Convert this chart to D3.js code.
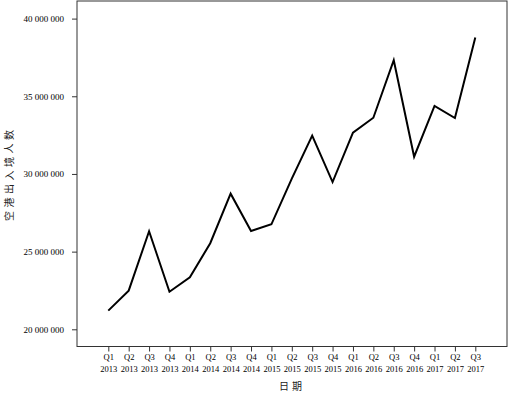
<!DOCTYPE html>
<html>
<head>
<meta charset="utf-8">
<script src="https://cdn.jsdelivr.net/npm/d3@7"></script>
<style>
  body { margin: 0; background: #fff; }
  svg { display: block; }
  .axis text { font-family: "Liberation Serif", "DejaVu Serif", serif; fill: #000; }
  .title { font-family: "Noto Sans CJK SC", sans-serif; fill: #222; }
</style>
</head>
<body>
<svg class="chart"></svg>
<script>
// quarterly passenger counts
var quarters = ['Q1', 'Q2', 'Q3', 'Q4', 'Q1', 'Q2', 'Q3', 'Q4', 'Q1', 'Q2',
                'Q3', 'Q4', 'Q1', 'Q2', 'Q3', 'Q4', 'Q1', 'Q2', 'Q3'];
var years = ['2013', '2013', '2013', '2013', '2014', '2014', '2014', '2014',
             '2015', '2015', '2015', '2015', '2016', '2016', '2016', '2016',
             '2017', '2017', '2017'];
var passengers = [21200000, 22490000, 26310000, 22420000, 23350000, 25540000,
                  28730000, 26330000, 26760000, 29700000, 32470000, 29480000,
                  32660000, 33620000, 37320000, 31110000, 34380000, 33600000,
                  38780000];
var yTicks = [20000000, 25000000, 30000000, 35000000, 40000000];

var chartWidth = 508;
var chartHeight = 393;
var box = {left: 77, top: 1, right: 507, bottom: 346.5};

var chart = d3.select('.chart').attr('width', chartWidth).attr('height', chartHeight);

var x = d3.scaleLinear().domain([0, quarters.length - 1]).range([108.3, 475.3]);
var y = d3.scaleLinear().domain([20000000, 40000000]).range([329.3, 18.6]);

var fmt = d => d3.format(',')(d).replace(/,/g, ' ');

// plot frame
chart.append('rect')
    .attr('x', box.left)
    .attr('y', box.top)
    .attr('width', box.right - box.left)
    .attr('height', box.bottom - box.top)
    .style('fill', 'none')
    .style('stroke', '#333')
    .style('stroke-width', 1);

var yAxis = d3.axisLeft(y).tickValues(yTicks).tickFormat(fmt).tickSize(5).tickPadding(8);
var gy = chart.append('g')
    .attr('class', 'axis')
    .attr('transform', 'translate(' + box.left + ',0)')
    .call(yAxis);
gy.select('.domain').remove();
gy.selectAll('text').style('font-size', '9px');
gy.selectAll('line').style('stroke', '#333');

var xAxis = d3.axisBottom(x).tickValues(d3.range(quarters.length)).tickSize(5).tickFormat('');
var gx = chart.append('g')
    .attr('class', 'axis')
    .attr('transform', 'translate(0,' + box.bottom + ')')
    .call(xAxis);
gx.select('.domain').remove();
gx.selectAll('line').style('stroke', '#333');

var ticks = gx.selectAll('g.tick');
ticks.append('text')
    .attr('y', 11)
    .attr('dy', '0.35em')
    .style('font-size', '8.5px')
    .text(i => quarters[i]);
ticks.append('text')
    .attr('y', 23)
    .attr('dy', '0.35em')
    .style('font-size', '8.5px')
    .text(i => years[i]);

var line = d3.line()
    .x((d, i) => x(i))
    .y(d => y(d));

chart.append('path')
    .datum(passengers)
    .attr('d', line)
    .style('fill', 'none')
    .style('stroke', '#000')
    .style('stroke-width', 2)
    .style('stroke-linejoin', 'miter');

chart.append('text')
    .attr('class', 'title')
    .attr('transform', 'translate(10,' + ((box.top + box.bottom) / 2) + ') rotate(-90)')
    .attr('text-anchor', 'middle')
    .attr('dominant-baseline', 'middle')
    .style('font-size', '10px')
    .style('letter-spacing', '3.5px')
    .text('空港出入境人数');

chart.append('text')
    .attr('class', 'title')
    .attr('x', (box.left + box.right) / 2)
    .attr('y', 387)
    .attr('text-anchor', 'middle')
    .attr('dominant-baseline', 'middle')
    .style('font-size', '10px')
    .style('letter-spacing', '3px')
    .text('日期');
</script>
</body>
</html>
